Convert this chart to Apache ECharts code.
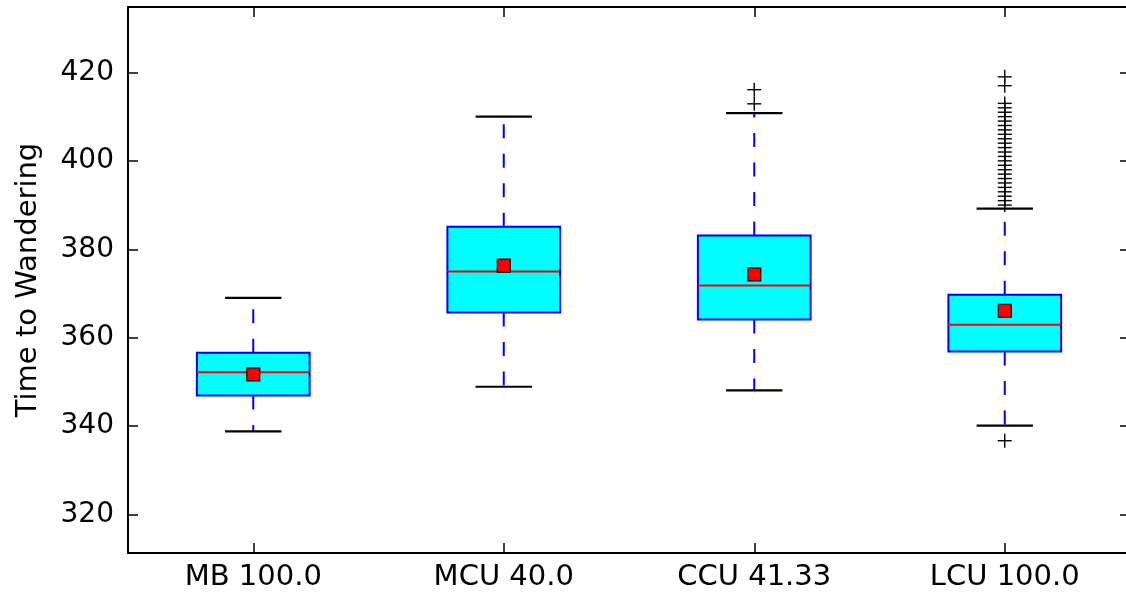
<!DOCTYPE html>
<html>
<head>
<meta charset="utf-8">
<title>Time to Wandering</title>
<script src="https://cdn.jsdelivr.net/npm/echarts@6/dist/echarts.min.js"></script>
<style>
  html, body { margin: 0; padding: 0; background: #ffffff; overflow: hidden; }
  /* The plot frame runs slightly past the right edge of the window */
  #chart { width: 1140px; height: 598px; }
</style>
</head>
<body>
<div id="chart"></div>
<script>
// Box plot summary per strategy
const categories = ['MB 100.0', 'MCU 40.0', 'CCU 41.33', 'LCU 100.0'];
const whiskerLow  = [338.8, 348.9, 348.1, 340.1];
const q1          = [346.9, 365.7, 364.1, 356.9];
const median      = [352.2, 375.0, 371.8, 362.9];
const q3          = [356.6, 385.1, 383.1, 369.7];
const whiskerHigh = [369.0, 410.0, 410.8, 389.2];
const means       = [351.7, 376.3, 374.3, 366.1];

// Fliers beyond the whiskers, per category
const outliersCCU = [412.9, 416.1];
const outliersLCU = [336.7, 390, 391, 392, 393, 394, 395, 396, 397, 398, 399, 400, 401,
                     402, 403, 404, 405, 406, 407, 408, 409, 410, 411, 412, 413, 417, 419];

const yMin = 311.3;
const yMax = 434.8;

const boxData = categories.map((c, i) => [i, whiskerLow[i], q1[i], median[i], q3[i], whiskerHigh[i]]);
const meanData = categories.map((c, i) => [i, means[i]]);
const outlierData = []
  .concat(outliersCCU.map(v => [2, v]))
  .concat(outliersLCU.map(v => [3, v]));

const FONT = 'DejaVu Sans';
const BLUE = '#0000ff';

function renderBox(params, api) {
  const i = api.value(0);
  const band = api.size([1, 0])[0];
  const half = band * 0.45 / 2;
  const capHalf = band * 0.225 / 2;
  const pLow = api.coord([i, api.value(1)]);
  const pQ1 = api.coord([i, api.value(2)]);
  const pMed = api.coord([i, api.value(3)]);
  const pQ3 = api.coord([i, api.value(4)]);
  const pHigh = api.coord([i, api.value(5)]);
  const x = pLow[0];
  const dash = { stroke: BLUE, lineWidth: 2, lineDash: [14, 15.5] };
  const cap = { stroke: '#000000', lineWidth: 2.2 };
  return {
    type: 'group',
    children: [
      { type: 'line', shape: { x1: x, y1: pQ1[1], x2: x, y2: pLow[1] }, style: dash },
      { type: 'line', shape: { x1: x, y1: pQ3[1], x2: x, y2: pHigh[1] }, style: dash },
      { type: 'line', shape: { x1: x - capHalf, y1: pLow[1], x2: x + capHalf, y2: pLow[1] }, style: cap },
      { type: 'line', shape: { x1: x - capHalf, y1: pHigh[1], x2: x + capHalf, y2: pHigh[1] }, style: cap },
      { type: 'rect', shape: { x: x - half, y: pQ3[1], width: half * 2, height: pQ1[1] - pQ3[1] },
        style: { fill: '#00ffff', stroke: BLUE, lineWidth: 2 } },
      { type: 'line', shape: { x1: x - half, y1: pMed[1], x2: x + half, y2: pMed[1] },
        style: { stroke: '#ff0000', lineWidth: 2 } }
    ]
  };
}

function renderPlus(params, api) {
  const p = api.coord([api.value(0), api.value(1)]);
  const h = 7;
  const st = { stroke: '#000000', lineWidth: 1.4 };
  return {
    type: 'group',
    children: [
      { type: 'line', shape: { x1: p[0] - h, y1: p[1], x2: p[0] + h, y2: p[1] }, style: st },
      { type: 'line', shape: { x1: p[0], y1: p[1] - h, x2: p[0], y2: p[1] + h }, style: st }
    ]
  };
}

const tickLabel = (v) => (Math.abs(v % 20) < 1e-9 ? String(v) : '');

const chart = echarts.init(document.getElementById('chart'), null, { renderer: 'canvas' });
chart.setOption({
  animation: false,
  backgroundColor: '#ffffff',
  grid: { left: 128, right: 10, top: 7, bottom: 45, containLabel: false },
  xAxis: [
    {
      type: 'category', data: categories, position: 'bottom',
      axisLine: { show: true, lineStyle: { color: '#000000', width: 2 } },
      axisTick: { show: true, inside: true, alignWithLabel: true, length: 10, lineStyle: { color: '#000000', width: 1.5 } },
      axisLabel: { show: true, color: '#000000', fontFamily: FONT, fontSize: 29, margin: 10 },
      splitLine: { show: false }
    },
    {
      type: 'category', data: categories, position: 'top',
      axisLine: { show: true, lineStyle: { color: '#000000', width: 2 } },
      axisTick: { show: true, inside: true, alignWithLabel: true, length: 10, lineStyle: { color: '#000000', width: 1.5 } },
      axisLabel: { show: false },
      splitLine: { show: false }
    }
  ],
  yAxis: [
    {
      type: 'value', min: yMin, max: yMax, splitNumber: 6, position: 'left',
      name: 'Time to Wandering', nameLocation: 'middle', nameRotate: 90, nameGap: 85,
      nameTextStyle: { color: '#000000', fontFamily: FONT, fontSize: 29 },
      axisLine: { show: true, lineStyle: { color: '#000000', width: 2 } },
      axisTick: { show: true, inside: true, length: 10, lineStyle: { color: '#000000', width: 1.5 } },
      axisLabel: { show: true, color: '#000000', fontFamily: FONT, fontSize: 28, margin: 14, formatter: tickLabel },
      splitLine: { show: false }
    },
    {
      type: 'value', min: yMin, max: yMax, splitNumber: 6, position: 'right',
      axisLine: { show: true, lineStyle: { color: '#000000', width: 2 } },
      axisTick: { show: true, inside: true, length: 10, lineStyle: { color: '#000000', width: 1.5 } },
      axisLabel: { show: false },
      splitLine: { show: false }
    }
  ],
  series: [
    {
      type: 'custom', name: 'box', xAxisIndex: 0, yAxisIndex: 0,
      renderItem: renderBox, data: boxData,
      encode: { x: 0, y: [1, 2, 3, 4, 5] }, z: 2, silent: true
    },
    {
      type: 'custom', name: 'fliers', xAxisIndex: 0, yAxisIndex: 0,
      renderItem: renderPlus, data: outlierData,
      encode: { x: 0, y: 1 }, z: 3, silent: true
    },
    {
      type: 'scatter', name: 'mean', xAxisIndex: 0, yAxisIndex: 0,
      data: meanData, symbol: 'rect', symbolSize: 13,
      itemStyle: { color: '#ff0000', borderColor: '#000000', borderWidth: 1.2, opacity: 1 },
      z: 4, silent: true
    }
  ]
});
</script>
</body>
</html>
